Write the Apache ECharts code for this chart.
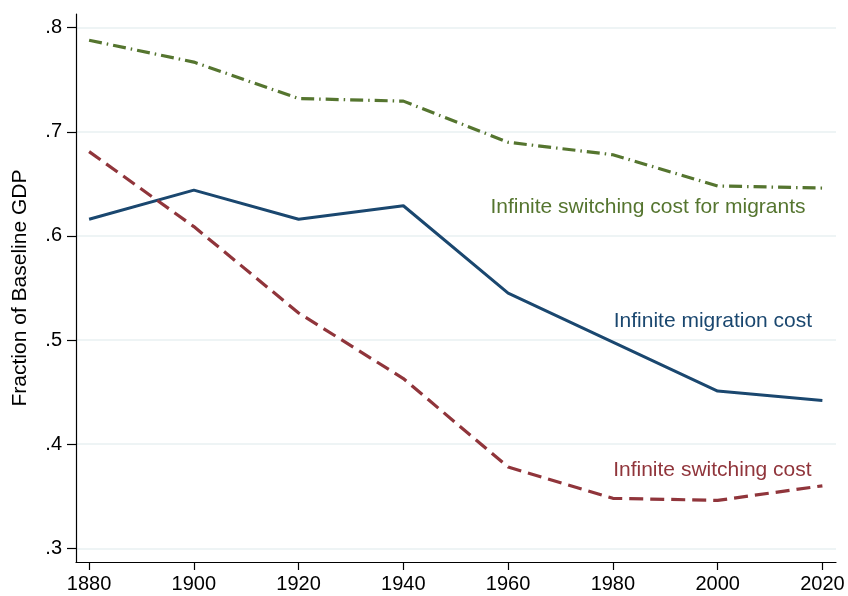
<!DOCTYPE html>
<html>
<head>
<meta charset="utf-8">
<script src="https://cdn.jsdelivr.net/npm/echarts@6/dist/echarts.min.js"></script>
<style>
  html, body { margin: 0; padding: 0; background: #fff; }
  #chart { width: 848px; height: 596px; }
</style>
</head>
<body>
<div id="chart"></div>
<script>
  // data
  var years = [1880, 1900, 1920, 1940, 1960, 1980, 2000, 2020]
  var switchMigrants = [0.788, 0.767, 0.732, 0.7295, 0.690, 0.678, 0.648, 0.646]
  var migrationCost = [0.616, 0.644, 0.616, 0.629, 0.545, 0.498, 0.451, 0.442]
  var switchCost = [0.681, 0.609, 0.526, 0.463, 0.378, 0.348, 0.346, 0.360]
  var yTicks = [0.3, 0.4, 0.5, 0.6, 0.7, 0.8]
  var yLabels = ['.3', '.4', '.5', '.6', '.7', '.8']

  var font = 'Liberation Sans, Arial, Helvetica, sans-serif'

  function pairs(vals) {
    return years.map(function (y, i) { return [y, vals[i]] })
  }

  function note(text, color, x, y) {
    return {
      symbol: 'circle',
      symbolSize: 0,
      silent: true,
      data: [{
        coord: [x, y],
        label: {
          show: true,
          formatter: text,
          position: 'inside',
          color: color,
          fontSize: 21,
          fontFamily: font
        }
      }]
    }
  }

  var chart = echarts.init(document.getElementById('chart'))

  chart.setOption({
    animation: false,
    grid: { left: 76, right: 12, top: 14, bottom: 34 },
    xAxis: {
      type: 'value',
      min: 1877.5,
      max: 2022.6,
      axisLine: { show: true, lineStyle: { color: '#000', width: 1.2 } },
      axisTick: { show: true, length: 8, customValues: years, lineStyle: { color: '#000', width: 1.2 } },
      axisLabel: {
        customValues: years,
        formatter: function (v) { return String(v) },
        color: '#000',
        fontSize: 20,
        fontFamily: font,
        margin: 12
      },
      splitLine: { show: false }
    },
    yAxis: {
      type: 'value',
      min: 0.2868,
      max: 0.8132,
      name: 'Fraction of Baseline GDP',
      nameLocation: 'middle',
      nameGap: 45,
      nameTextStyle: { color: '#000', fontSize: 21, fontFamily: font },
      axisLine: { show: true, lineStyle: { color: '#000', width: 1.2 } },
      axisTick: { show: true, length: 9, customValues: yTicks, lineStyle: { color: '#000', width: 1.2 } },
      axisLabel: {
        customValues: yTicks,
        formatter: function (v) {
          var i = yTicks.findIndex(function (t) { return Math.abs(t - v) < 1e-6 })
          return i >= 0 ? yLabels[i] : ''
        },
        color: '#000',
        fontSize: 20,
        fontFamily: font,
        margin: 14
      },
      splitLine: { show: true, lineStyle: { color: '#e8f0f2', width: 1.5 } }
    },
    series: [
      {
        name: 'Infinite switching cost for migrants',
        type: 'line',
        data: pairs(switchMigrants),
        showSymbol: false,
        lineStyle: { color: '#55752f', width: 3.2, type: [13, 5, 1.5, 5] },
        markPoint: note('Infinite switching cost for migrants', '#55752f', 1986.7, 0.6276)
      },
      {
        name: 'Infinite migration cost',
        type: 'line',
        data: pairs(migrationCost),
        showSymbol: false,
        lineStyle: { color: '#1a476f', width: 3 },
        markPoint: note('Infinite migration cost', '#1a476f', 1999.1, 0.518)
      },
      {
        name: 'Infinite switching cost',
        type: 'line',
        data: pairs(switchCost),
        showSymbol: false,
        lineStyle: { color: '#90353b', width: 3.2, type: [14, 7] },
        markPoint: note('Infinite switching cost', '#90353b', 1999.0, 0.3747)
      }
    ]
  })
</script>
</body>
</html>
